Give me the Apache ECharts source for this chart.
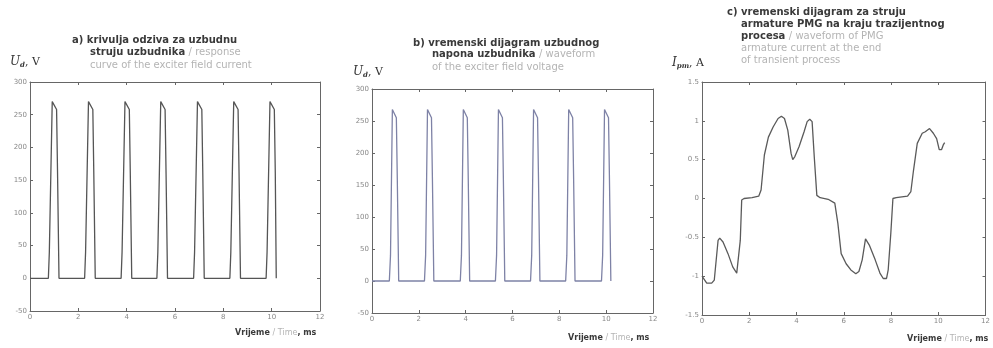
<!DOCTYPE html>
<html>
<head>
<meta charset="utf-8">
<script src="https://cdn.jsdelivr.net/npm/echarts@6/dist/echarts.min.js"></script>
<style>
  html, body { margin: 0; padding: 0; background: #fff; }
  #chart { width: 993px; height: 348px; }
</style>
</head>
<body>
<div id="chart"></div>
<script>
// a) struja uzbudnika [t ms, U V]
let pulseA = [
  [0, 0], [0.76, 0], [0.8, 40], [0.92, 270], [0.97, 268], [1.1, 258], [1.14, 160], [1.2, 0],
  [2.26, 0], [2.3, 40], [2.42, 270], [2.47, 268], [2.6, 258], [2.64, 160], [2.7, 0],
  [3.77, 0], [3.81, 40], [3.93, 270], [3.98, 268], [4.11, 258], [4.15, 160], [4.21, 0],
  [5.25, 0], [5.29, 40], [5.41, 270], [5.46, 268], [5.59, 258], [5.63, 160], [5.69, 0],
  [6.77, 0], [6.81, 40], [6.93, 270], [6.98, 268], [7.11, 258], [7.15, 160], [7.21, 0],
  [8.27, 0], [8.31, 40], [8.43, 270], [8.48, 268], [8.61, 258], [8.65, 160], [8.71, 0],
  [9.77, 0], [9.81, 40], [9.93, 270], [9.98, 268], [10.11, 258], [10.15, 160], [10.19, 0]
];
// b) napon uzbudnika
let pulseB = [
  [0, 0], [0.74, 0], [0.79, 40], [0.87, 268], [0.92, 265], [1.04, 255], [1.08, 160], [1.14, 0],
  [2.24, 0], [2.29, 40], [2.37, 268], [2.42, 265], [2.54, 255], [2.58, 160], [2.64, 0],
  [3.77, 0], [3.82, 40], [3.9, 268], [3.95, 265], [4.07, 255], [4.11, 160], [4.17, 0],
  [5.27, 0], [5.32, 40], [5.4, 268], [5.45, 265], [5.57, 255], [5.61, 160], [5.67, 0],
  [6.77, 0], [6.82, 40], [6.9, 268], [6.95, 265], [7.07, 255], [7.11, 160], [7.17, 0],
  [8.27, 0], [8.32, 40], [8.4, 268], [8.45, 265], [8.57, 255], [8.61, 160], [8.67, 0],
  [9.8, 0], [9.85, 40], [9.93, 268], [9.98, 265], [10.1, 255], [10.14, 160], [10.2, 0]
];
// c) struja armature PMG
let currentC = [
  [0, -1.0], [0.2, -1.09], [0.41, -1.09], [0.52, -1.05], [0.68, -0.54], [0.75, -0.51],
  [0.89, -0.56], [1.1, -0.71], [1.3, -0.88], [1.47, -0.96], [1.53, -0.94], [1.62, -0.54],
  [1.68, -0.02], [1.78, 0], [2.12, 0.01], [2.4, 0.03], [2.5, 0.11], [2.64, 0.56],
  [2.81, 0.79], [3.01, 0.92], [3.22, 1.03], [3.36, 1.06], [3.49, 1.03], [3.63, 0.88],
  [3.77, 0.58], [3.84, 0.5], [3.93, 0.54], [4.11, 0.67], [4.32, 0.86], [4.45, 0.99],
  [4.56, 1.02], [4.66, 0.99], [4.75, 0.54], [4.86, 0.04], [5.0, 0.01], [5.34, -0.01],
  [5.62, -0.06], [5.75, -0.32], [5.89, -0.71], [6.1, -0.84], [6.3, -0.92], [6.51, -0.97],
  [6.64, -0.94], [6.78, -0.79], [6.92, -0.52], [6.99, -0.51], [7.08, -0.6], [7.33, -0.79],
  [7.53, -0.96], [7.67, -1.03], [7.81, -1.03], [7.88, -0.92], [7.99, -0.45], [8.08, 0],
  [8.22, 0.01], [8.7, 0.03], [8.84, 0.09], [8.95, 0.36], [9.11, 0.71], [9.32, 0.84],
  [9.45, 0.86], [9.63, 0.9], [9.79, 0.84], [9.93, 0.77], [10.0, 0.75], [10.04, 0.63],
  [10.14, 0.63], [10.21, 0.69], [10.27, 0.72]
];

let chart = echarts.init(document.getElementById('chart'));

const sans = 'DejaVu Sans';
const serif = 'DejaVu Serif';
const rich = {
  b: { fontFamily: sans, fontSize: 10, fontWeight: 'bold', color: '#3a3a3a', lineHeight: 12 },
  g: { fontFamily: sans, fontSize: 10, fontWeight: 'normal', color: '#b4b4b4', lineHeight: 12 },
  x: { fontFamily: sans, fontSize: 8, fontWeight: 'bold', color: '#3a3a3a', lineHeight: 11 },
  y: { fontFamily: sans, fontSize: 8, fontWeight: 'normal', color: '#b4b4b4', lineHeight: 11 },
  u: { fontFamily: serif, fontSize: 12, fontStyle: 'italic', fontWeight: 'normal', color: '#333', lineHeight: 14 },
  s: { fontFamily: serif, fontSize: 7, fontStyle: 'italic', fontWeight: 'bold', color: '#333', padding: [6, 0, 0, 0], lineHeight: 14 },
  n: { fontFamily: serif, fontSize: 11, fontWeight: 'normal', color: '#333', lineHeight: 14 }
};

// jedan red teksta
const line = (text, left, top) => ({
  text: text, left: left, top: top, padding: 0,
  textStyle: { fontSize: 8, fontWeight: 'normal', lineHeight: 11, rich: rich }
});

const grids = [
  { left: 30, top: 82, width: 290, height: 229 },
  { left: 372, top: 89, width: 281, height: 224 },
  { left: 702, top: 82, width: 290, height: 233 }
];
const yRange = [[-50, 300, 50], [-50, 300, 50], [-1.5, 1.5, 0.5]];

let xAxes = [], yAxes = [];
grids.forEach((g, i) => {
  const axisLine = { show: true, onZero: false, lineStyle: { color: '#666', width: 1 } };
  const tick = { inside: true, length: 3, lineStyle: { color: '#666' } };
  xAxes.push({
    gridIndex: i, type: 'value', min: 0, max: 12, interval: 2, position: 'bottom',
    axisLine: axisLine, axisTick: tick,
    axisLabel: { fontSize: 7, color: '#888', margin: 3, fontFamily: sans },
    splitLine: { show: false }
  });
  xAxes.push({
    gridIndex: i, type: 'value', min: 0, max: 12, interval: 2, position: 'top',
    axisLine: axisLine, axisTick: tick,
    axisLabel: { show: false }, splitLine: { show: false }
  });
  yAxes.push({
    gridIndex: i, type: 'value', min: yRange[i][0], max: yRange[i][1], interval: yRange[i][2], position: 'left',
    axisLine: axisLine, axisTick: tick,
    axisLabel: { fontSize: 7, color: '#888', margin: 3, fontFamily: sans },
    splitLine: { show: false }
  });
  yAxes.push({
    gridIndex: i, type: 'value', min: yRange[i][0], max: yRange[i][1], interval: yRange[i][2], position: 'right',
    axisLine: axisLine, axisTick: tick,
    axisLabel: { show: false }, splitLine: { show: false }
  });
});

const mkSeries = (data, i, color) => ({
  type: 'line', data: data, xAxisIndex: i * 2, yAxisIndex: i * 2,
  showSymbol: false, symbol: 'none', animation: false,
  lineStyle: { color: color, width: 1.3 }
});

let option = {
  backgroundColor: '#fff',
  animation: false,
  title: [
    line('{b|a) krivulja odziva za uzbudnu}', 72, 34),
    line('{b|struju uzbudnika }{g|/ response}', 90, 46),
    line('{g|curve of the exciter field current}', 90, 59),
    line('{u|U}{s|d}{n|, V}', 10, 55),
    line('{x|Vrijeme }{y|/ Time}{x|, ms}', 235, 327),

    line('{b|b) vremenski dijagram uzbudnog}', 413, 37),
    line('{b|napona uzbudnika }{g|/ waveform}', 432, 48),
    line('{g|of the exciter field voltage}', 432, 61),
    line('{u|U}{s|d}{n|, V}', 353, 65),
    line('{x|Vrijeme }{y|/ Time}{x|, ms}', 568, 332),

    line('{b|c) vremenski dijagram za struju}', 727, 6),
    line('{b|armature PMG na kraju trazijentnog}', 741, 18),
    line('{b|procesa }{g|/ waveform of PMG}', 741, 30),
    line('{g|armature current at the end}', 741, 42),
    line('{g|of transient process}', 741, 54),
    line('{u|I}{s|pm}{n|, A}', 672, 56),
    line('{x|Vrijeme }{y|/ Time}{x|, ms}', 907, 333)
  ],
  grid: grids,
  xAxis: xAxes,
  yAxis: yAxes,
  series: [
    mkSeries(pulseA, 0, '#555'),
    mkSeries(pulseB, 1, '#7e82a6'),
    mkSeries(currentC, 2, '#5a5a5a')
  ]
};

chart.setOption(option);
window.addEventListener('resize', function () {
  chart && chart.resize();
});
</script>
</body>
</html>
